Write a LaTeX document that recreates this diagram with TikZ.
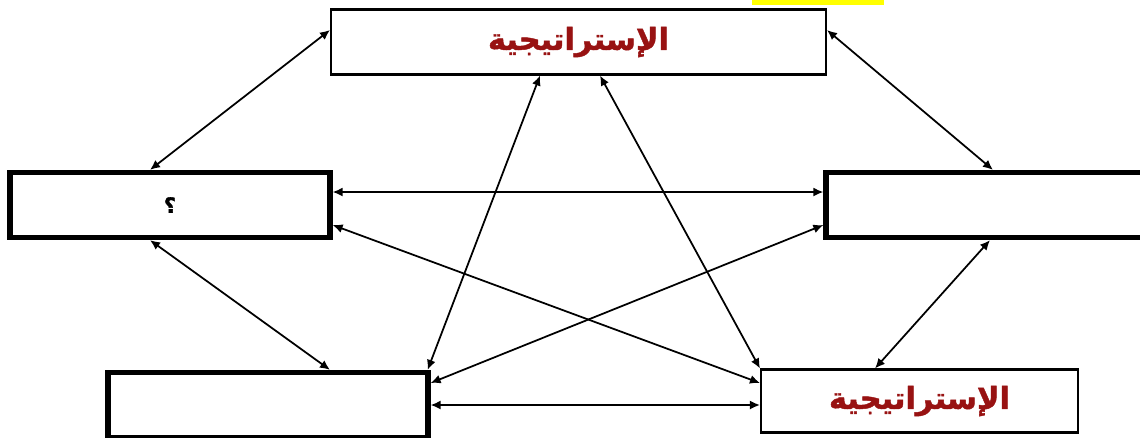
\documentclass[tikz,border=0pt]{standalone}
\usepackage{fontspec}
\usetikzlibrary{arrows.meta}
\TeXXeTstate=1
\newfontfamily\arabicfont[Script=Arabic, BoldFeatures={FakeBold=1.5}]{DejaVu Sans}
\definecolor{stratc}{HTML}{981212}
\definecolor{hlc}{HTML}{FFFF00}

\begin{document}
\begin{tikzpicture}[x=0.02cm, y=-0.02cm,
    thinbox/.style={draw, line width=1.2pt, minimum height=1.3cm},
    thickbox/.style={draw, line width=3pt, minimum height=1.3cm},
    link/.style={{Latex[length=2mm,width=1.8mm]}-{Latex[length=2mm,width=1.8mm]}, line width=1pt},
    strat/.style={font=\arabicfont\bfseries\LARGE, text=stratc}]
  \useasboundingbox (0,0) rectangle (1140,437);
  % cropped highlight at the top edge
  \fill[hlc] (752,0) rectangle (884,5);

  % boxes
  \node[thinbox, minimum width=9.9cm, strat] (top) at (578.5,42) {\beginR الإستراتيجية\endR};
  \node[thickbox, minimum width=6.4cm] (left) at (170,205) {\arabicfont\bfseries\large\beginR ؟\endR};
  \node[thickbox, minimum width=6.4cm] (right) at (986,205) {};
  \node[thickbox, minimum width=6.4cm] (bl) at (268,405) {};
  \node[thinbox, minimum width=6.34cm, minimum height=1.26cm, strat] (br) at (919.5,401) {\beginR الإستراتيجية\endR};

  % outer links
  \draw[link] ([yshift=0.24cm]top.west) -- ([xshift=-0.4cm]left.north);
  \draw[link] ([yshift=0.24cm]top.east) -- ([xshift=0.14cm]right.north);
  \draw[link] ([xshift=-0.4cm]left.south) -- ([xshift=1.24cm]bl.north);
  \draw[link] ([xshift=0.08cm]right.south) -- ([xshift=-0.89cm]br.north);
  \draw[link] ([yshift=0.26cm]left.east) -- ([yshift=0.26cm]right.west);
  \draw[link] (bl.east) -- (bl.east -| br.west);

  % crossing links
  \draw[link] ([xshift=-0.77cm]top.south) -- ([xshift=-0.06cm]bl.north east);
  \draw[link] ([xshift=0.43cm]top.south) -- (br.north west);
  \draw[link] ([yshift=-0.4cm]left.east) -- ([yshift=0.36cm]br.west);
  \draw[link] ([yshift=-0.4cm]right.west) -- ([yshift=0.44cm]bl.east);
\end{tikzpicture}
\end{document}
